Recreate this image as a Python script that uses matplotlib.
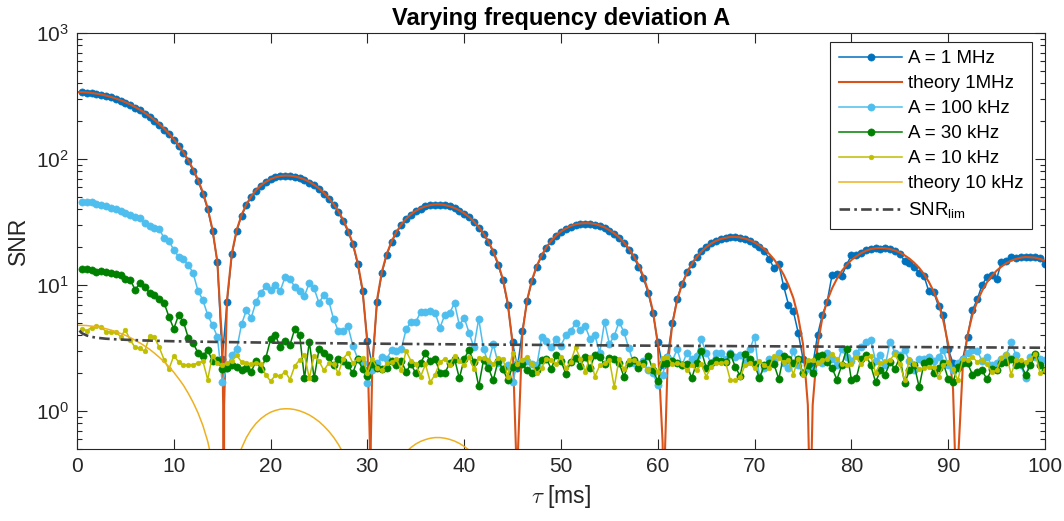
import numpy as np
import matplotlib
matplotlib.use('Agg')
import matplotlib.pyplot as plt
from matplotlib.ticker import LogLocator, NullFormatter, FixedLocator

# ---------------- data ----------------
tau = np.arange(1, 201) * 0.5          # 0.5 ... 100 ms, measured points
tau_theory = np.arange(0, 201) * 0.5   # 0 ... 100 ms

snr_1MHz = [
    338, 336, 333, 329, 322, 316, 309, 300, 291, 279,
    268, 256, 243, 229, 216, 201, 186, 171, 157, 141,
    126, 111, 96, 81, 67, 53, 40, 27, 15.3, 2.6,
    7.3, 17.5, 27.0, 35.5, 43.0, 50.0, 56.0, 61.0, 65.5, 68.8,
    71.5, 73.0, 73.5, 73.5, 72.5, 70.8, 68.2, 65.0, 61.8, 57.5,
    53.0, 48.0, 43.2, 37.8, 32.0, 26.5, 21.0, 14.6, 8.9, 3.6,
    2.3, 7.4, 12.5, 17.4, 22.0, 26.0, 29.8, 33.2, 36.0, 38.5,
    40.4, 42.0, 42.8, 43.4, 43.2, 42.9, 42.0, 40.6, 38.8, 36.8,
    34.5, 31.6, 28.6, 25.2, 21.9, 18.2, 14.5, 10.9, 7.0, 3.5,
    2.2, 4.3, 7.5, 10.8, 14.0, 17.0, 19.8, 22.3, 24.4, 26.3,
    27.9, 29.0, 29.9, 30.5, 30.6, 30.5, 30.1, 29.3, 28.2, 27.0,
    25.3, 23.5, 21.4, 19.1, 16.7, 14.0, 11.4, 8.7, 6.0, 3.5,
    2.3, 2.7, 5.0, 7.8, 10.2, 12.6, 14.8, 16.8, 18.6, 20.1,
    21.4, 22.4, 23.2, 23.6, 23.9, 23.9, 23.6, 23.0, 22.3, 21.2,
    20.0, 18.6, 16.2, 13.6, 14.6, 9.8, 7.0, 6.2, 4.2, 2.6,
    2.2, 2.3, 4.0, 5.8, 7.4, 12.0, 12.2, 11.8, 14.4, 17.3,
    17.3, 18.0, 19.0, 19.2, 19.5, 19.4, 19.5, 19.2, 18.6, 17.6,
    15.6, 15.0, 14.0, 12.4, 11.8, 8.9, 8.8, 6.8, 5.8, 3.1,
    2.4, 2.2, 2.6, 3.9, 6.3, 7.7, 10.0, 11.6, 12.0, 11.1,
    15.3, 15.6, 16.8, 16.5, 16.6, 16.7, 16.6, 16.8, 16.5, 14.6,
]

theory_1MHz = [
    340,
    339.4, 337.6, 334.5, 330.3, 325.0, 318.5, 310.9, 302.3, 292.7, 282.4,
    270.9, 258.8, 246.0, 232.6, 218.6, 204.1, 189.4, 174.3, 159.0, 143.6,
    128.3, 113.0, 97.8, 83.0, 68.5, 54.5, 40.8, 27.5, 15.2, 3.4,
    7.7, 17.9, 27.4, 36.0, 43.7, 50.6, 56.6, 61.7, 65.9, 69.3,
    71.7, 73.3, 73.9, 73.7, 72.8, 71.1, 68.8, 65.9, 62.4, 58.4,
    53.9, 49.1, 44.0, 38.5, 32.9, 27.1, 21.3, 15.0, 9.2, 3.4,
    2.2, 7.7, 12.8, 17.7, 22.2, 26.4, 30.2, 33.5, 36.4, 38.8,
    40.7, 42.1, 43.1, 43.6, 43.6, 43.1, 42.2, 40.9, 39.2, 37.1,
    34.7, 31.9, 28.9, 25.6, 22.2, 18.5, 14.8, 11.1, 7.2, 3.4,
    0.38, 4.1, 7.6, 11.0, 14.2, 17.2, 20.0, 22.5, 24.7, 26.6,
    28.1, 29.4, 30.3, 30.8, 31.0, 30.9, 30.5, 29.7, 28.7, 27.3,
    25.7, 23.9, 21.8, 19.5, 17.1, 14.5, 11.8, 9.0, 6.2, 3.4,
    0.56, 2.2, 4.9, 7.6, 10.1, 12.4, 14.6, 16.6, 18.4, 20.0,
    21.3, 22.4, 23.2, 23.7, 24.1, 24.1, 23.9, 23.4, 22.7, 21.8,
    20.6, 19.3, 17.7, 16.0, 14.1, 12.1, 10.0, 7.9, 5.6, 3.4,
    1.12, 1.12, 3.3, 5.5, 7.5, 9.4, 11.2, 12.9, 14.4, 15.8,
    16.9, 17.9, 18.7, 19.3, 19.6, 19.7, 19.6, 19.3, 18.8, 18.1,
    17.2, 16.2, 15.0, 13.7, 12.2, 10.6, 8.9, 7.2, 5.2, 3.4,
    1.5, 0.38, 2.2, 4.0, 5.8, 7.4, 9.0, 10.5, 11.8, 13.0,
    14.0, 14.9, 15.6, 16.1, 16.5, 16.7, 16.6, 16.5, 16.1, 15.6,
]

# extra samples of the theory curve around its zeros
theory_dip_tau = [15.10, 15.15, 15.20, 30.25, 30.30, 30.35, 45.40, 45.45, 45.50,
                  60.55, 60.60, 60.65, 75.70, 75.75, 75.80, 90.85, 90.90, 90.95]
theory_dip_val = [1.12, 0.001, 1.12, 0.56, 0.001, 0.56, 0.37, 0.001, 0.37,
                  0.28, 0.001, 0.28, 0.22, 0.001, 0.22, 0.19, 0.001, 0.19]

snr_100kHz = [
    45.8, 45.6, 45.2, 44.3, 43.5, 42.2, 41.0, 40.4, 38.6, 37.5,
    36.0, 34.6, 33.8, 31.0, 29.6, 28.6, 27.9, 23.5, 22.4, 19.0,
    16.8, 16.0, 14.5, 12.4, 9.0, 7.6, 5.8, 4.8, 3.9, 1.7,
    2.2, 2.8, 3.1, 4.9, 6.3, 5.5, 7.4, 8.7, 9.8, 9.1,
    10.0, 9.0, 11.6, 11.1, 9.7, 8.9, 8.2, 10.4, 9.4, 7.2,
    8.4, 7.5, 5.4, 4.3, 4.3, 4.7, 3.3, 2.6, 2.4, 1.66,
    2.1, 2.4, 2.7, 2.6, 3.05, 3.0, 3.1, 4.45, 5.1, 5.1,
    6.1, 6.1, 6.2, 6.0, 4.6, 5.8, 6.0, 7.2, 4.8, 5.5,
    4.2, 3.2, 5.4, 3.1, 2.4, 3.4, 2.4, 2.15, 2.3, 1.7,
    2.4, 2.45, 2.5, 2.35, 2.3, 3.85, 3.6, 3.2, 3.75, 3.3,
    4.0, 4.3, 5.0, 4.4, 4.7, 3.75, 4.0, 2.9, 5.1, 3.4,
    3.95, 5.1, 4.25, 3.15, 2.4, 2.3, 2.5, 2.1, 2.0, 1.6,
    1.95, 2.7, 2.5, 3.1, 2.3, 2.9, 2.6, 2.75, 3.7, 2.9,
    2.4, 2.9, 2.9, 2.6, 2.9, 2.7, 2.8, 2.4, 3.1, 3.9,
    1.88, 2.2, 2.6, 2.5, 2.9, 2.4, 2.2, 3.0, 2.3, 2.0,
    2.2, 2.1, 2.55, 2.4, 2.9, 2.6, 2.3, 3.1, 2.7, 2.5,
    2.9, 3.2, 3.55, 3.66, 2.5, 2.8, 2.3, 3.55, 2.9, 2.8,
    3.05, 2.5, 2.1, 2.6, 2.6, 2.7, 2.5, 2.7, 3.05, 2.3,
    2.1, 2.4, 2.6, 2.9, 3.05, 3.0, 2.5, 2.7, 2.3, 2.4,
    2.6, 2.8, 3.5, 2.8, 2.3, 1.82, 2.7, 2.7, 2.6, 2.55,
]

snr_30kHz = [
    13.4, 13.4, 13.2, 12.8, 12.9, 12.6, 12.4, 12.3, 12.0, 11.1,
    11.0, 9.2, 10.3, 9.7, 8.6, 8.4, 7.7, 7.2, 5.6, 4.5,
    5.8, 5.1, 3.8, 3.45, 2.9, 2.75, 3.05, 2.5, 2.55, 2.15,
    2.2, 2.3, 2.25, 2.1, 2.2, 2.05, 2.5, 2.15, 2.63, 3.72,
    4.0, 3.2, 3.6, 3.35, 4.5, 4.0, 1.82, 3.55, 1.82, 3.1,
    2.9, 2.7, 2.3, 2.6, 2.5, 2.3, 2.0, 2.6, 2.15, 1.9,
    2.35, 2.2, 2.15, 2.2, 2.5, 2.3, 2.5, 2.05, 2.35, 2.0,
    2.4, 2.87, 2.5, 2.6, 2.0, 2.0, 2.4, 2.6, 1.82, 2.6,
    3.05, 2.45, 1.57, 2.55, 2.2, 1.75, 2.5, 2.15, 1.76, 2.25,
    2.3, 2.35, 2.1, 2.0, 2.1, 2.55, 2.6, 2.15, 2.8, 2.5,
    1.98, 2.45, 2.65, 2.28, 2.7, 2.2, 2.78, 2.7, 2.35, 2.65,
    2.6, 2.4, 1.88, 2.4, 2.55, 2.2, 2.4, 2.75, 2.1, 1.73,
    2.4, 2.4, 2.5, 2.4, 2.3, 2.35, 1.82, 2.4, 3.0, 2.2,
    2.4, 2.55, 2.5, 2.45, 2.83, 2.25, 1.9, 2.85, 2.6, 2.35,
    1.82, 2.3, 2.4, 2.35, 1.8, 2.75, 2.6, 2.4, 2.6, 2.0,
    2.3, 2.0, 2.75, 2.8, 2.45, 2.2, 1.78, 2.3, 3.1, 1.76,
    1.82, 2.6, 2.8, 2.3, 1.7, 2.1, 1.95, 2.45, 2.15, 2.7,
    1.66, 2.1, 2.3, 1.55, 2.4, 2.5, 2.0, 2.2, 2.4, 1.8,
    1.7, 2.25, 2.4, 2.4, 1.95, 2.05, 2.1, 1.79, 2.15, 2.1,
    2.4, 2.45, 2.6, 2.3, 2.35, 1.95, 2.3, 2.85, 2.3, 2.1,
]

snr_10kHz = [
    4.5, 4.35, 4.6, 4.75, 4.65, 4.26, 4.25, 4.25, 3.9, 4.4,
    3.66, 3.2, 3.15, 2.98, 3.95, 3.85, 3.2, 2.55, 2.15, 2.75,
    2.45, 2.32, 2.32, 2.34, 2.4, 2.5, 1.78, 2.75, 2.4, 2.3,
    2.4, 2.5, 2.78, 2.45, 2.4, 2.38, 2.4, 2.35, 1.93, 1.73,
    1.92, 1.9, 2.05, 1.78, 2.28, 2.55, 2.78, 1.82, 2.75, 2.5,
    2.1, 2.4, 2.35, 2.0, 2.6, 2.9, 2.4, 2.6, 2.65, 2.0,
    2.6, 2.2, 2.1, 2.4, 2.45, 2.6, 2.1, 3.0, 2.5, 2.35,
    1.88, 2.35, 1.7, 1.95, 2.45, 2.6, 2.3, 2.75, 2.5, 2.3,
    2.7, 2.15, 2.65, 2.65, 2.55, 2.35, 2.65, 2.6, 1.88, 2.9,
    2.35, 2.55, 2.7, 2.35, 2.0, 2.2, 2.6, 2.55, 2.35, 2.7,
    2.2, 2.45, 3.2, 2.6, 2.05, 2.7, 1.88, 2.3, 2.4, 2.55,
    1.55, 2.6, 2.15, 2.55, 2.55, 2.4, 2.3, 2.1, 2.3, 2.05,
    2.65, 2.7, 2.35, 2.4, 2.35, 2.1, 2.3, 2.1, 2.35, 1.88,
    2.25, 2.4, 2.4, 2.45, 1.75, 1.75, 1.85, 2.3, 2.4, 2.2,
    2.5, 2.3, 2.2, 2.75, 2.65, 2.45, 2.55, 1.95, 2.6, 1.95,
    2.55, 2.55, 2.4, 2.55, 2.6, 2.85, 2.6, 2.35, 2.3, 2.35,
    2.7, 2.35, 2.65, 2.75, 2.0, 2.4, 2.5, 2.55, 2.85, 2.35,
    1.76, 2.6, 2.35, 2.15, 2.2, 2.25, 2.25, 1.85, 2.3, 2.45,
    2.15, 1.75, 2.6, 2.55, 2.7, 2.45, 2.55, 2.35, 2.05, 2.1,
    2.65, 2.83, 1.95, 2.55, 2.55, 2.45, 2.6, 2.85, 2.0, 2.1,
]

tau_theory_10k = np.arange(0, 85) * 0.5   # 0 ... 42 ms
theory_10kHz = [
    4.80, 4.79, 4.77, 4.72, 4.66, 4.59, 4.50, 4.39, 4.27, 4.13, 3.99,
    3.83, 3.65, 3.47, 3.28, 3.09, 2.88, 2.67, 2.46, 2.25, 2.03,
    1.81, 1.60, 1.38, 1.17, 0.967, 0.770, 0.576, 0.388, 0.215, 0.048,
    0.109, 0.253, 0.387, 0.508, 0.617, 0.714, 0.799, 0.871, 0.931, 0.979,
    1.012, 1.035, 1.043, 1.041, 1.028, 1.004, 0.971, 0.931, 0.881, 0.825,
    0.761, 0.693, 0.621, 0.544, 0.465, 0.383, 0.301, 0.212, 0.130, 0.048,
    0.031, 0.109, 0.181, 0.250, 0.313, 0.373, 0.426, 0.473, 0.514, 0.548,
    0.575, 0.594, 0.609, 0.616, 0.616, 0.609, 0.596, 0.578, 0.554, 0.524,
    0.490, 0.450, 0.408, 0.361,
]

lim_tau = [0.25, 0.5, 1, 1.5, 2, 3, 4, 5, 7, 10, 15, 20, 30, 40, 50, 60, 70, 80, 90, 100]
lim_vals = [4.35, 4.15, 3.98, 3.88, 3.82, 3.75, 3.71, 3.68, 3.63, 3.58,
            3.53, 3.49, 3.43, 3.38, 3.34, 3.30, 3.27, 3.24, 3.21, 3.18]

x_ticks = [0, 10, 20, 30, 40, 50, 60, 70, 80, 90, 100]

for name, arr in [('snr_1MHz', snr_1MHz), ('snr_100kHz', snr_100kHz),
                  ('snr_30kHz', snr_30kHz), ('snr_10kHz', snr_10kHz)]:
    assert len(arr) == 200, (name, len(arr))
assert len(theory_1MHz) == 201, len(theory_1MHz)
assert len(theory_10kHz) == len(tau_theory_10k), len(theory_10kHz)

# ---------------- style ----------------
plt.rcParams['font.family'] = ['Liberation Sans', 'DejaVu Sans']
plt.rcParams['mathtext.fontset'] = 'custom'
plt.rcParams['mathtext.rm'] = 'Liberation Sans'
plt.rcParams['mathtext.it'] = 'Liberation Sans:italic'
plt.rcParams['mathtext.bf'] = 'Liberation Sans:bold'

axc = '#262626'
c_1M = '#0072BD'
c_th1 = '#D95319'
c_100k = '#4DBEEE'
c_30k = '#008000'
c_10k = '#BFBF00'
c_th10 = '#EDB120'
c_lim = '#454545'

fig = plt.figure(figsize=(10.64, 5.21), dpi=100)
ax = fig.add_axes([0.07237, 0.13820, 0.90977, 0.79846])

# theory curve with extra samples at the zeros
tt = np.concatenate([tau_theory, theory_dip_tau])
tv = np.concatenate([theory_1MHz, theory_dip_val])
order = np.argsort(tt, kind='stable')
tt, tv = tt[order], tv[order]

ax.plot(tau, snr_1MHz, '-o', color=c_1M, lw=1.1, ms=5.2, mec=c_1M, mew=0.4,
        label='A = 1 MHz')
ax.plot(tt, tv, '-', color=c_th1, lw=1.5, label='theory 1MHz')
ax.plot(tau, snr_100kHz, '-o', color=c_100k, lw=1.1, ms=5.2, mec=c_100k, mew=0.4,
        label='A = 100 kHz')
ax.plot(tau, snr_30kHz, '-o', color=c_30k, lw=1.1, ms=5.2, mec=c_30k, mew=0.4,
        label='A = 30 kHz')
ax.plot(tau, snr_10kHz, '-o', color=c_10k, lw=1.1, ms=3.4, mec=c_10k, mew=0.4,
        label='A = 10 kHz')
ax.plot(tau_theory_10k, theory_10kHz, '-', color=c_th10, lw=1.1, label='theory 10 kHz')
ax.plot(lim_tau, lim_vals, color=c_lim, lw=1.9, dashes=(4, 1.6, 1, 1.6),
        label=r'SNR$_{\mathrm{lim}}$')

ax.set_yscale('log')
ax.set_xlim(0, 100)
ax.set_ylim(0.5, 1000)
ax.xaxis.set_major_locator(FixedLocator(x_ticks))
ax.yaxis.set_major_locator(LogLocator(base=10, numticks=10))
ax.yaxis.set_minor_locator(LogLocator(base=10, subs=np.arange(2, 10), numticks=20))
ax.yaxis.set_minor_formatter(NullFormatter())

ax.tick_params(which='both', direction='in', top=True, right=True, colors=axc,
               labelsize=15, width=0.8)
ax.tick_params(which='major', length=7, pad=6)
ax.tick_params(which='minor', length=3.5)
for s in ax.spines.values():
    s.set_color(axc)
    s.set_linewidth(0.8)

ax.set_title('Varying frequency deviation A', fontsize=17, fontweight='bold',
             color='black', pad=6)
ax.set_ylabel('SNR', fontsize=16.5, color=axc, labelpad=4)
ax.set_xlabel(r'$\tau$ [ms]', fontsize=16.5, color=axc, labelpad=5,
              math_fontfamily='cm')

leg = ax.legend(loc='upper right', bbox_to_anchor=(1032 / 1064, (521 - 41.7) / 521),
                bbox_transform=fig.transFigure, borderaxespad=0, fontsize=13.5,
                numpoints=1, handlelength=3.4, handletextpad=0.3,
                labelspacing=0.42, borderpad=0.45, fancybox=False,
                framealpha=1, edgecolor=axc)
leg.get_frame().set_linewidth(0.8)

fig.savefig('out.png', dpi=100)
